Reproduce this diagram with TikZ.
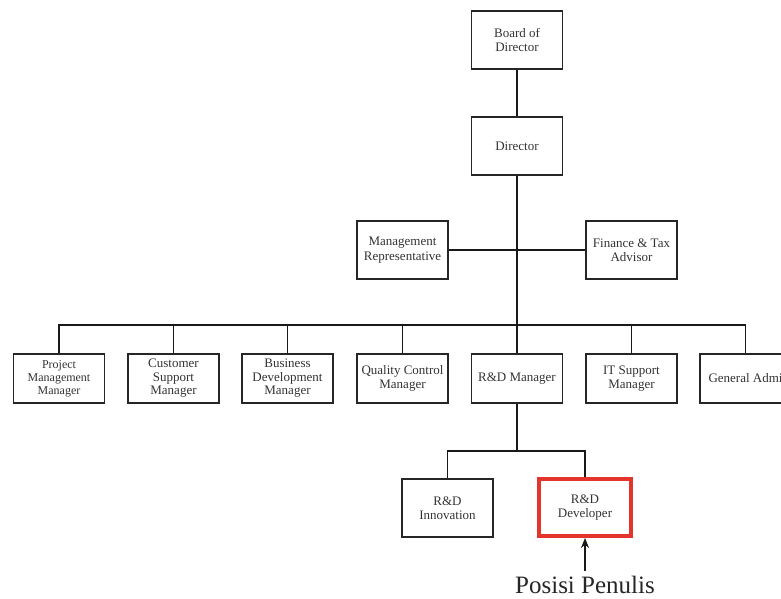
\documentclass[tikz,border=0pt]{standalone}
\usepackage{fontspec}
\setmainfont{Liberation Serif}
\usetikzlibrary{arrows.meta}
\definecolor{markred}{RGB}{228,52,44}
\begin{document}
\begin{tikzpicture}[x=1pt,y=-1pt,
  box/.style={draw=black!85,line width=1.2pt,minimum width=91pt,minimum height=58pt,
    align=center,inner sep=0pt,text=black!80,font=\fontsize{13}{14.5}\selectfont},
  rowbox/.style={box,minimum height=49pt,font=\fontsize{13}{13.5}\selectfont},
  link/.style={draw=black!90,line width=1.1pt}]
  \clip (0,0) rectangle (781,598);
  \node[box] (bod) at (517,40) {Board of\\Director};
  \node[box] (dir) at (517,146) {Director};
  \node[box] (mr) at (402.5,250) {Management\\Representative};
  \node[box] (fta) at (631.5,250) {Finance \& Tax\\Advisor};
  \node[rowbox,font=\fontsize{12}{13}\selectfont] (pm) at (59,378.5) {Project\\Management\\Manager};
  \node[rowbox] (cs) at (173.5,378.5) {Customer\\Support\\Manager};
  \node[rowbox] (bd) at (287.5,378.5) {Business\\Development\\Manager};
  \node[rowbox] (qc) at (402.5,378.5) {Quality Control\\Manager};
  \node[rowbox] (rnd) at (517,378.5) {R\&D Manager};
  \node[rowbox] (it) at (631.5,378.5) {IT Support\\Manager};
  \node[rowbox] (ga) at (745.5,378.5) {General Admi};
  \node[box] (inno) at (447.5,508) {R\&D\\Innovation};
  \node[box,draw=markred,line width=4pt,minimum width=92pt,minimum height=57pt] (dev) at (585,507.5) {R\&D\\Developer};
  \node[inner xsep=3pt,inner ysep=1pt,text=black!85,font=\fontsize{25}{27}\selectfont] (pos) at (585,585) {Posisi Penulis};
  \coordinate (bus) at (517,325);
  \coordinate (sub) at (517,451);
  \draw[link] (bod) -- (dir);
  \draw[link] (dir) -- (rnd);
  \draw[link] (mr) -- (fta);
  \foreach \n in {pm,cs,bd,qc,it,ga}
    \draw[link] (\n.north) |- (bus);
  \draw[link] (rnd) -- (sub);
  \draw[link] (inno.north) |- (sub);
  \draw[link] (dev.north) |- (sub);
  \draw[link,-{Stealth[length=10pt,width=8pt]}] ([yshift=4pt]pos.north) -- (dev.south);
\end{tikzpicture}
\end{document}
